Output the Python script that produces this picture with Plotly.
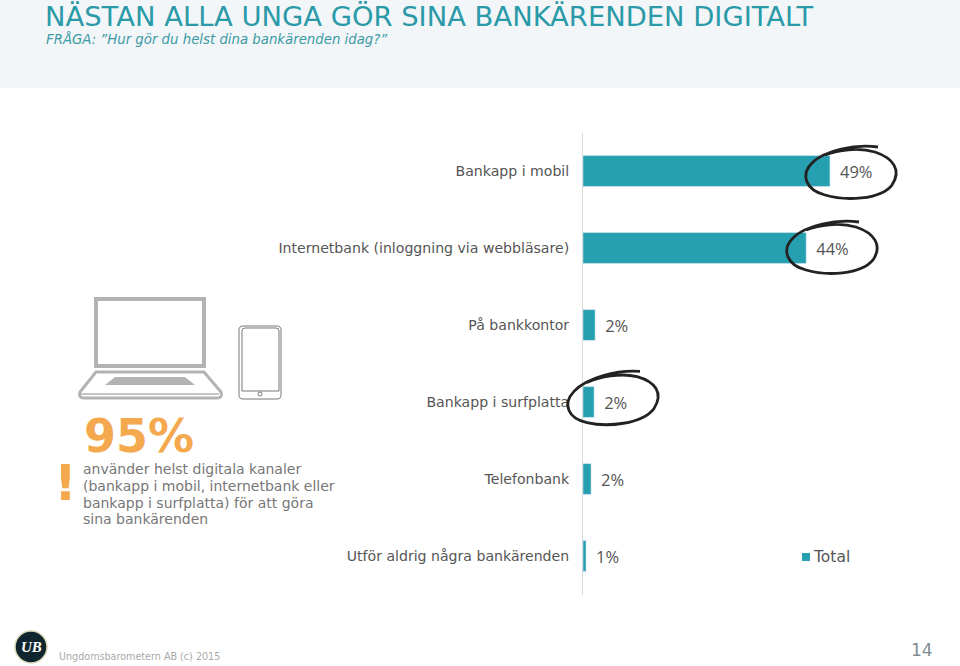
import plotly.graph_objects as go

W, H = 960, 666

categories = ["Bankapp i mobil", "Internetbank (inloggning via webbläsare)", "På bankkontor",
              "Bankapp i surfplatta", "Telefonbank", "Utför aldrig några bankärenden"]
bar_values = [48.9, 44.2, 2.4, 2.2, 1.6, 0.6]
value_labels = ["49%", "44%", "2%", "2%", "2%", "1%"]
series_name = "Total"
title_text = "NÄSTAN ALLA UNGA GÖR SINA BANKÄRENDEN DIGITALT"
subtitle_text = "FRÅGA: ”Hur gör du helst dina bankärenden idag?”"
callout_value = "95%"
callout_lines = ["använder helst digitala kanaler", "(bankapp i mobil, internetbank eller",
                 "bankapp i surfplatta) för att göra", "sina bankärenden"]
footer_text = "Ungdomsbarometern AB (c) 2015"
page_number = "14"

TEAL = "#26a0b0"
ORANGE = "#f5a94e"
FONT = "DejaVu Sans"


def px(x):
    return x / W


def py(y):
    return 1 - y / H


fig = go.Figure(go.Bar(
    x=bar_values, y=categories, orientation="h", name=series_name,
    marker_color=TEAL, text=[" \u2009" + v for v in value_labels], textposition="outside",
    cliponaxis=False, textfont=dict(family="Open Sans", size=16.5, color="#555555"),
    hoverinfo="x+y", showlegend=False,
))


def note(text, x, y, size, color, family=FONT, anchor="left", **kw):
    fig.add_annotation(text=text, x=px(x), y=py(y), xref="paper", yref="paper", showarrow=False,
                       xanchor=anchor, yanchor="middle", borderpad=0,
                       font=dict(size=size, color=color, family=family, **kw))


def rect(x0, y0, x1, y1, fill="rgba(0,0,0,0)", line="rgba(0,0,0,0)", w=0, layer="above"):
    fig.add_shape(type="rect", xref="paper", yref="paper", x0=px(x0), x1=px(x1), y0=py(y1), y1=py(y0),
                  fillcolor=fill, line=dict(color=line, width=w), layer=layer)


def path(points, line="#222222", w=2.8, fill="rgba(0,0,0,0)"):
    fig.add_shape(type="path", xref="paper", yref="paper", path=points(lambda x, y: f"{px(x):.5f},{py(y):.5f}"),
                  line=dict(color=line, width=w), fillcolor=fill, layer="above")


rect(0, 0, 960, 88, fill="#f3f6f8", layer="below")
fig.add_annotation(text=f"<i>{subtitle_text}</i>", x=px(44), y=py(39), xref="paper", yref="paper", showarrow=False,
                   xanchor="left", yanchor="middle", font=dict(size=13.3, color="#3b9aa6", family=FONT))


def ring(dx, dy, tilt=0.0):
    def build(p):
        def t(x, y):
            return p(x + dx, y + dy + tilt * (x - 851))
        return (f"M {t(878,147)} C {t(855,144)} {t(825,150)} {t(812,163)} "
                f"C {t(800,175)} {t(806,190)} {t(825,195)} "
                f"C {t(845,201)} {t(880,200)} {t(892,185)} "
                f"C {t(902,170)} {t(893,158)} {t(875,152)} "
                f"C {t(858,147)} {t(838,150)} {t(825,155)}")
    return build


for dx, dy, tilt in [(0, 0, 0), (-19, 75, 0), (-238, 226, -0.06)]:
    path(ring(dx, dy, tilt))

# laptop
G = "#b3b3b3"
fig.add_shape(type="rect", xref="paper", yref="paper", x0=px(96), x1=px(204), y0=py(366), y1=py(299),
              line=dict(color=G, width=4), fillcolor="rgba(0,0,0,0)")
path(lambda p: f"M {p(96,372)} L {p(204,372)} L {p(221,392)} Q {p(223,398)} {p(217,398)} L {p(84,398)} "
               f"Q {p(78,398)} {p(80,392)} Z", line=G, w=3)
path(lambda p: f"M {p(81,394)} L {p(219,394)}", line=G, w=1.5)
path(lambda p: f"M {p(115,377)} L {p(185,377)} L {p(195,385)} L {p(105,385)} Z", line=G, w=0, fill=G)
# tablet
T = "#777777"
path(lambda p: f"M {p(243,326)} L {p(277,326)} Q {p(281,326)} {p(281,330)} L {p(281,395)} Q {p(281,399)} {p(277,399)} "
               f"L {p(243,399)} Q {p(239,399)} {p(239,395)} L {p(239,330)} Q {p(239,326)} {p(243,326)} Z", line=T, w=1)
path(lambda p: f"M {p(245,328)} L {p(276,328)} Q {p(279,328)} {p(279,331)} L {p(279,391)} L {p(242,391)} "
               f"L {p(242,331)} Q {p(242,328)} {p(245,328)} Z", line=T, w=1)
fig.add_shape(type="circle", xref="paper", yref="paper", x0=px(258), x1=px(262), y0=py(396), y1=py(392),
              line=dict(color=T, width=1))

note(callout_value, 83, 436, 46, ORANGE, family="DejaVu Sans", weight="bold")
note("!", 65, 483, 50, ORANGE, family="DejaVu Sans", anchor="center", weight="bold")
for line_text, y_pos in zip(callout_lines, [469, 486, 503, 519]):
    note(line_text, 82, y_pos, 14, "#777777")

# total key
rect(802, 553, 810, 561, fill=TEAL)
note(series_name, 812, 557, 15.5, "#555555")

# footer
fig.add_shape(type="circle", xref="paper", yref="paper", x0=px(15), x1=px(47), y0=py(663), y1=py(631),
              fillcolor="#10262e", line=dict(color="#d8d6b8", width=1.5))
fig.add_annotation(text="<i><b>UB</b></i>", x=px(31), y=py(647), xref="paper", yref="paper", showarrow=False,
                   xanchor="center", yanchor="middle", font=dict(size=15, color="white", family="Liberation Serif"))
note(footer_text, 58, 656, 9.6, "#a9a9a9")
note(page_number, 910, 650, 17, "#7c8b94")

fig.update_layout(
    width=W, height=H, margin=dict(l=0, r=0, t=0, b=0), paper_bgcolor="white", plot_bgcolor="rgba(0,0,0,0)",
    title=dict(text=title_text, x=px(45), xanchor="left", xref="paper", y=py(16.5), yanchor="middle", yref="paper",
               font=dict(family=FONT, size=27.4, color="#2a9aa8")),
    bargap=0.6, showlegend=False,
    xaxis=dict(domain=[px(583), 1], range=[0, 377 / 5.05], visible=False),
    yaxis=dict(domain=[py(594.5), py(132.5)], autorange="reversed", showline=True, linecolor="#d9d9d9", linewidth=1,
               ticks="outside", ticklen=10, tickcolor="rgba(0,0,0,0)", showgrid=False, zeroline=False,
               tickfont=dict(family=FONT, size=14.1, color="#555555")),
)
fig.write_html("out.html", config={"displayModeBar": False},
               post_script="document.body.style.margin='0';document.body.style.overflow='hidden';")
